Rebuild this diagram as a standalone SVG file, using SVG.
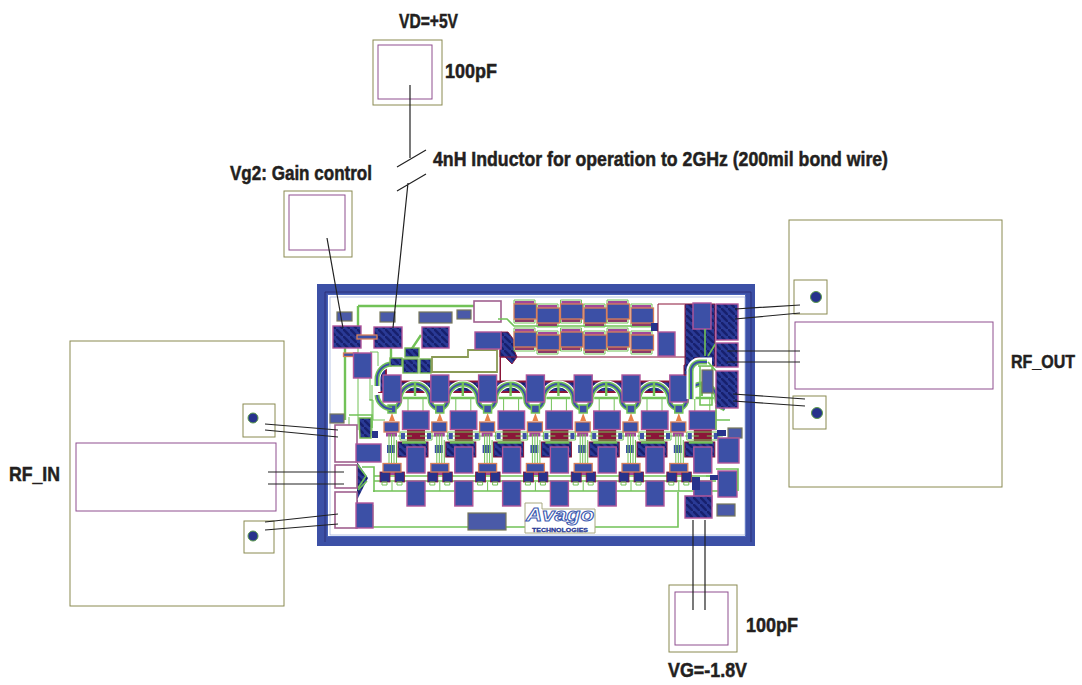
<svg xmlns="http://www.w3.org/2000/svg" width="1082" height="685" viewBox="0 0 1082 685">
<style>
text{font-family:"Liberation Sans Narrow","Liberation Sans",Arial,sans-serif;font-weight:700;font-size:20px;fill:#231f20;stroke:#231f20;stroke-width:.5}
.bx{fill:#fff;stroke:#8a8a50;stroke-width:1}
.in{fill:#fff;stroke:#8f4f8f;stroke-width:1}
.w{fill:none;stroke:#222;stroke-width:1.2}
.p{fill:#3c50a6;stroke:#b0559a;stroke-width:1.4}
.h{fill:url(#ht);stroke:#b0559a;stroke-width:1.4}
.hg{fill:url(#ht);stroke:#76b850;stroke-width:1.4}
.o{fill:#3c50a6;stroke:#d9805a;stroke-width:1.3}
.g{fill:#4a5aa8;stroke:#77775a;stroke-width:1.2}
.l{fill:none;stroke:#72c257;stroke-width:1}
.ll{fill:none;stroke:#72c257;stroke-width:1.6}
.lk{fill:none;stroke:#72c257;stroke-width:2.4}
.r{fill:#8b1538}
.rl{fill:none;stroke:#8b1538;stroke-width:1}
.b{fill:#27338c}
.wp{fill:#fff;stroke:#a0608f;stroke-width:1.6}
.ra{fill:none;stroke:#72c257;stroke-width:5}
.rb{fill:none;stroke:#3c50a6;stroke-width:2}
</style>
<defs>
<pattern id="ht" width="7" height="7" patternUnits="userSpaceOnUse">
<rect width="7" height="7" fill="#2a3a96"/><path d="M0 0L7 7" stroke="#17206e" stroke-width="2.600"/>
</pattern>
<g id="cell">
<path d="M393 409Q400 406 400 399A15 15 0 0 1 430 399Q430 406 438 409" fill="none" stroke="#fff" stroke-width="7"/>
<path class="ra" d="M393 409Q400 406 400 399A15 15 0 0 1 430 399Q430 406 438 409"/>
<path class="rb" d="M393 409Q400 406 400 399A15 15 0 0 1 430 399Q430 406 438 409"/>
<path class="lk" d="M415 382V396M403 398H427"/>
<path class="l" d="M408 398V411M423 398V411"/>
<rect class="p" x="383" y="375" width="18" height="27"/>
<rect x="388" y="405" width="8" height="8" fill="#3c50a6" stroke="#72c257" stroke-width="1.500"/>
<path d="M392 413L389 421H395Z" fill="#e8824a"/>
<rect class="r" x="407" y="430" width="18" height="11"/>
<path class="l" d="M400 432H432V440H400ZM398 436H412M420 436H436"/>
<rect x="401" y="433" width="4" height="6" fill="#3c50a6"/><rect x="427" y="433" width="4" height="6" fill="#3c50a6"/>
<rect class="p" x="402.500" y="411" width="26.500" height="18.500"/>
<rect class="o" x="384" y="422" width="15" height="10"/>
<rect x="386" y="432.500" width="11" height="4" fill="#a0489a"/>
<rect x="387" y="445" width="8" height="8" fill="#3c50a6"/>
<path class="l" d="M389 434V464M391.500 434V464M394 434V464M396.500 440V464"/>
<rect x="398" y="442" width="30" height="15" fill="url(#ht)" stroke="#8b1538"/>
<path class="lk" d="M402 442.500H426"/>
<rect x="384" y="472" width="14" height="3" fill="#a0489a"/>
<rect x="380" y="472" width="10" height="10" fill="#27338c" stroke="#8b1538" stroke-width=".8"/>
<rect x="395" y="472" width="9.500" height="10" fill="#27338c" stroke="#8b1538" stroke-width=".8"/>
<path class="l" d="M382 482H387V485H382ZM397 482H402V485H397Z"/>
<rect class="o" x="383" y="463.500" width="18" height="8.500"/>
<rect class="p" x="407" y="447" width="18" height="26"/>
<path class="l" d="M392 482V491"/>
<rect class="p" x="407" y="481" width="18" height="25"/>
</g>
<g id="cap">
<path class="l" d="M0 0H21V4H0ZM0 19H21V23H0Z" stroke-width="1.500"/>
<rect x="1" y="1" width="19" height="3" fill="#a0489a"/>
<rect x="1" y="19" width="19" height="3" fill="#8b3a6a"/>
<rect class="o" x="0" y="4" width="22.500" height="15"/>
</g>
</defs>

<g id="vd-cap"><rect class="bx" x="373" y="40" width="69" height="65"/><rect class="in" x="378" y="45" width="54" height="54"/></g>
<g id="vg2-cap"><rect class="bx" x="284" y="191" width="68" height="66"/><rect class="in" x="289" y="195" width="56" height="55"/></g>
<g id="vg-cap"><rect class="bx" x="669" y="585" width="68" height="67"/><rect class="in" x="675" y="592" width="53" height="53"/></g>
<g id="rf-in-board">
<rect class="bx" x="70" y="341" width="214" height="265"/>
<rect class="in" x="76" y="443" width="200" height="68"/>
<rect class="bx" x="243" y="404" width="32" height="33"/><circle cx="253" cy="418" r="5" fill="#27338c" stroke="#5c9c4a"/>
<rect class="bx" x="244" y="521" width="30" height="32"/><circle cx="253" cy="536" r="5" fill="#27338c" stroke="#5c9c4a"/>
</g>
<g id="rf-out-board">
<rect class="bx" x="789" y="220" width="213" height="267"/>
<rect class="in" x="795" y="322" width="198" height="67"/>
<rect class="bx" x="794" y="280" width="33" height="34"/><circle cx="816" cy="297" r="5.500" fill="#27338c" stroke="#5c9c4a"/>
<rect class="bx" x="793" y="396" width="33" height="33"/><circle cx="817" cy="413" r="5.500" fill="#27338c" stroke="#5c9c4a"/>
</g>

<g id="chip">
<path fill="#3c50a6" fill-rule="evenodd" d="M317 284H755V546H317ZM327 294V537H746V294Z"/>
<path fill="none" stroke="#2a2a70" stroke-width=".8" d="M325 292H751V542M325 292V542"/>
<rect x="327.500" y="294.500" width="418" height="242" fill="#fff" stroke="#4a63b8"/>
<rect x="330" y="297" width="415" height="238" fill="none" stroke="#99a8d8" stroke-width=".7"/>

<g id="rows"><path class="ll" d="M374 476H716M374 481H716M373 527H678V492M373 491H720M716 420H730M362 467H374V492"/>
<path class="l" d="M358 322V430M373 527V505"/></g>

<g id="cells">
<path d="M379 368H386V381.500H684V392H379Z" fill="url(#ht)" stroke="#8b1538" stroke-width="1.800"/>
<rect class="r" x="499.500" y="350" width="1.500" height="32"/>
<use href="#cell"/><use href="#cell" x="47.800"/><use href="#cell" x="95.600"/><use href="#cell" x="143.400"/><use href="#cell" x="191.200"/><use href="#cell" x="239"/><use href="#cell" x="286.800"/>
</g>

<g id="top-left">
<rect class="g" x="337" y="312" width="15" height="9"/>
<rect class="g" x="380" y="312" width="15" height="10"/>
<rect class="g" x="419" y="312" width="33" height="11"/>
<rect class="g" x="457" y="310" width="14" height="9"/>
<path class="lk" d="M358 306H477M358 306V327M345 348V420M391 345V366M411 350L421 335"/>
<path class="l" d="M370 352H378V366M370 378V400H372M349 417V425M372 385V436M369 400H373V420H385"/>
<rect class="h" x="333" y="326" width="28" height="22"/>
<rect class="h" x="374" y="327" width="28" height="21"/>
<rect class="h" x="422" y="327" width="27" height="21"/>
<rect class="o" x="357" y="335" width="20" height="4"/>
<rect class="o" x="343.500" y="353" width="14" height="3.500"/>
<rect class="p" x="353.500" y="353" width="18" height="25"/>
<path d="M392 364A15 15 0 0 0 377 379V392" fill="none" stroke="#fff" stroke-width="7"/>
<path class="ra" d="M392 364A15 15 0 0 0 377 379V386"/>
<path class="rb" d="M392 364A15 15 0 0 0 377 379V386"/>
<path class="ra" d="M377 395A15 15 0 0 0 392 409"/>
<path class="rb" d="M377 395A15 15 0 0 0 392 409"/>
<rect class="hg" x="405" y="348" width="14" height="9"/>
<rect class="hg" x="390" y="358" width="12" height="8"/>
<rect class="hg" x="403" y="359" width="15" height="14"/>
<rect class="hg" x="420" y="359" width="11" height="14"/>
<path d="M432 357H468V350H497V372H432Z" fill="#fff" stroke="#8a9a55" stroke-width="1.800"/>
<rect class="wp" x="474" y="301" width="27" height="21"/>
<path d="M501 332H508L514 340V350L517 357L512 364L505 357H500V349H501Z" fill="url(#ht)" stroke="#8b1538" stroke-width=".9"/>
<rect class="p" x="475" y="332" width="26" height="17"/>
<path class="ll" d="M498 319H507L514 326H660"/>
</g>

<g id="caps">
<use href="#cap" x="514" y="300"/><use href="#cap" x="537" y="304"/><use href="#cap" x="560.500" y="300"/><use href="#cap" x="584" y="304"/><use href="#cap" x="607" y="300"/><use href="#cap" x="631" y="304"/>
<use href="#cap" x="514" y="328"/><use href="#cap" x="537" y="331"/><use href="#cap" x="560.500" y="328"/><use href="#cap" x="584" y="331"/><use href="#cap" x="607" y="328"/><use href="#cap" x="631" y="331"/>
<path class="rl" stroke-width="1.200" d="M500 357H685"/>
<rect x="651" y="323" width="7" height="8" class="b"/>
</g>

<g id="right-side">
<path d="M685 304H715V366H702V358H695L691 364V375H684V365H685Z" fill="url(#ht)" stroke="#8b1538"/>
<path d="M691 399V372a9 9 0 0 1 9-10H712" fill="none" stroke="#fff" stroke-width="9"/>
<path class="ra" d="M691 399V372a9 9 0 0 1 9-10H707"/>
<path class="rb" d="M691 399V372a9 9 0 0 1 9-10H707"/>
<rect class="p" x="693" y="303" width="18" height="26"/>
<path class="ll" d="M705 329V356M708 356L716 343M708 362L716 371M698 366H712V405H700V366M716 405V430"/>
<rect class="h" x="716" y="304" width="22" height="36"/>
<rect class="h" x="716" y="343" width="22" height="24"/>
<rect class="h" x="716" y="371" width="22" height="37"/>
<rect class="g" x="702" y="370" width="11" height="23"/>
<rect class="p" x="658" y="332" width="17" height="24" stroke="#c88ac0"/>
<path d="M658 332V304H685" fill="#fff" stroke="#8b1538"/>
</g>

<g id="bottom-right">
<rect class="g" x="728" y="428" width="14" height="10"/>
<rect x="717" y="430" width="9" height="6" class="b"/>
<rect class="p" x="718" y="438" width="21" height="25"/>
<rect class="p" x="718" y="471" width="19" height="26"/>
<path class="ll" d="M716 469H738V491M706 476H718"/>
<rect x="710" y="475" width="8" height="5" class="b"/>
<rect x="692" y="477" width="8" height="13" class="b"/>
<path d="M685 496H712V518H685Z" fill="url(#ht)" stroke="#b0559a" stroke-width="1.400"/>
<rect class="g" x="717" y="504" width="18" height="12"/>
</g>

<g id="bottom-left">
<rect x="330" y="414" width="14" height="9" class="g"/>
<path class="hg" d="M359 418H371V438H360Z"/>
<rect x="372" y="431" width="6" height="7" class="b"/>
<path class="ll" d="M349 415H372V428"/>
<path fill="url(#ht)" d="M357 462L368 478L357 500H358V504H357Z" stroke="none"/>
<path class="ll" d="M357 464L366 476L358 488M358 490L367 481"/>
<rect class="wp" x="335" y="425" width="22" height="37"/>
<rect class="wp" x="335" y="465" width="22" height="23"/>
<rect class="wp" x="335" y="492" width="22" height="36"/>
<rect class="p" x="356" y="444" width="25" height="18"/>
<rect class="p" x="356" y="503" width="17" height="25"/>
<rect class="g" x="468" y="513" width="38" height="17" fill="url(#ht)"/>
</g>

<g id="logo">
<path d="M525 503H542V509H595V533H525Z" fill="#fff" stroke="#a8a880"/>
<text x="526" y="521" textLength="68" lengthAdjust="spacingAndGlyphs" style="font-size:19px;fill:#fff;stroke:#3c5ab0;stroke-width:1;font-style:italic">Avago</text>
<text x="532" y="532" textLength="56" lengthAdjust="spacingAndGlyphs" style="font-size:6px;fill:#2a3a96;stroke:#2a3a96;stroke-width:.3">TECHNOLOGIES</text>
</g>
</g>

<g id="connectors">
<path class="w" d="M410 85V158M408 183L393 328M327 238L343 328M397 167L426 150M397 191L426 174"/>
<path class="w" d="M265 424L338 430M265 430L338 437M268 472H344M268 484H344M265 522L338 514M265 530L338 524"/>
<path class="w" d="M800 305L735 309M800 313L735 319M800 351H727M800 362H727M805 399L733 394M805 406L733 401"/>
<path class="w" d="M693 520V610M705 520V610"/>
</g>

<g id="labels">
<text x="399" y="28" textLength="59" lengthAdjust="spacingAndGlyphs">VD=+5V</text>
<text x="445" y="78" textLength="52" lengthAdjust="spacingAndGlyphs">100pF</text>
<text x="433" y="166" textLength="455" lengthAdjust="spacingAndGlyphs">4nH Inductor for operation to 2GHz (200mil bond wire)</text>
<text x="230" y="180" textLength="142" lengthAdjust="spacingAndGlyphs">Vg2: Gain control</text>
<text x="1011" y="368" textLength="64" lengthAdjust="spacingAndGlyphs" style="font-size:19px">RF_OUT</text>
<text x="9" y="481" textLength="51" lengthAdjust="spacingAndGlyphs">RF_IN</text>
<text x="746" y="632" textLength="52" lengthAdjust="spacingAndGlyphs">100pF</text>
<text x="668" y="677" textLength="79" lengthAdjust="spacingAndGlyphs">VG=-1.8V</text>
</g>
</svg>
